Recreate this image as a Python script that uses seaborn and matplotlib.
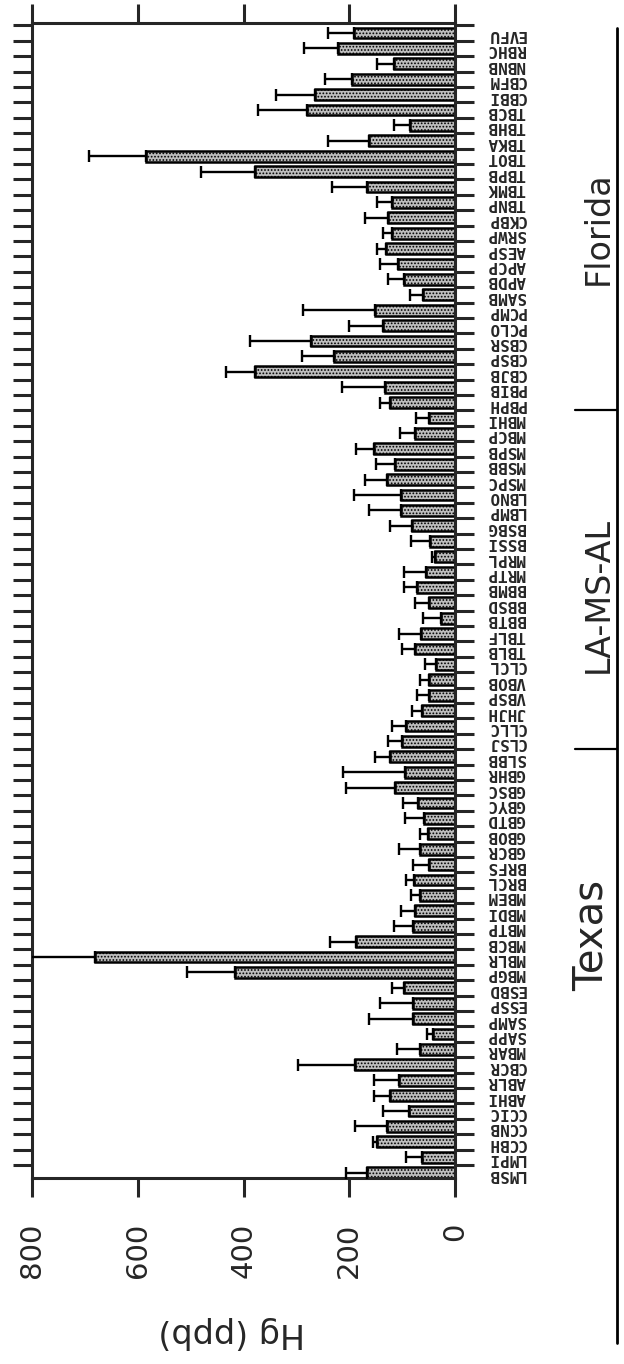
import numpy as np
import pandas as pd
import seaborn as sns
import matplotlib
matplotlib.use("Agg")
import matplotlib.pyplot as plt
from matplotlib.transforms import blended_transform_factory

# ---- data (bottom-to-top order as in the figure) ----
sites = ["LMSB", "LMPI", "CCBH", "CCNB", "CCIC", "ABHI", "ABLR", "CBCR", "MBAR", "SAPP",
         "SAMP", "ESSP", "ESBD", "MBGP", "MBLR", "MBCB", "MBTP", "MBDI", "MBEM", "BRCL",
         "BRFS", "GBCR", "GBOB", "GBTD", "GBYC", "GBSC", "GBHR", "SLBB", "CLSJ", "CLLC",
         "JHJH", "VBSP", "VBOB", "CLCL", "TBLB", "TBLF", "BBTB", "BBSD", "BBMB", "MRTP",
         "MRPL", "BSSI", "BSBG", "LBMP", "LBNO", "MSPC", "MSBB", "MSPB", "MBCP", "MBHI",
         "PBPH", "PBIB", "CBJB", "CBSP", "CBSR", "PCLO", "PCMP", "SAMB", "APDB", "APCP",
         "AESP", "SRWP", "CKBP", "TBNP", "TBMK", "TBPB", "TBOT", "TBKA", "TBHB", "TBCB",
         "CBBI", "CBFM", "NBNB", "RBHC", "EVFU"]

hg_mean = [166, 62, 147, 128, 87, 122, 105, 190, 66, 42,
           80, 80, 97, 416, 681, 187, 80, 75, 67, 77,
           50, 67, 52, 59, 70, 114, 95, 122, 100, 92,
           62, 50, 49, 36, 75, 64, 26, 50, 71, 55,
           38, 48, 81, 103, 103, 129, 114, 153, 76, 50,
           123, 133, 379, 229, 273, 136, 151, 61, 97, 108,
           131, 119, 126, 120, 167, 379, 584, 163, 85, 279,
           265, 195, 115, 221, 191]

hg_err = [40, 30, 9, 62, 50, 31, 48, 107, 43, 11,
          83, 62, 22, 90, 199, 50, 35, 28, 17, 16,
          29, 38, 15, 35, 29, 92, 117, 29, 26, 28,
          19, 22, 17, 21, 26, 41, 35, 25, 25, 42,
          6, 35, 42, 60, 88, 42, 36, 35, 28, 23,
          19, 81, 55, 60, 114, 65, 136, 24, 30, 33,
          17, 17, 44, 28, 66, 102, 109, 78, 30, 93,
          74, 51, 33, 65, 50]

regions = ["Texas", "LA-MS-AL", "Florida"]
region_last_site = ["SLBB", "MBHI"]   # boundaries after these sites
value_ticks = [0, 200, 400, 600, 800]

# ---- figure ----
sns.set_style("ticks")
plt.rcParams["font.family"] = ["DejaVu Sans"]
plt.rcParams["hatch.linewidth"] = 0.8

W, H = 624, 1364
fig = plt.figure(figsize=(W / 100, H / 100), dpi=100)
ax = fig.add_axes([32 / W, 1 - 1178 / H, (455 - 32) / W, (1178 - 23) / H])

order = sites[::-1]          # seaborn puts first category on top
df = pd.DataFrame({"site": sites, "Hg": hg_mean, "err": hg_err})

sns.barplot(data=df, x="Hg", y="site", order=order, orient="h", ax=ax,
            color="#bdbdbd", edgecolor="black", linewidth=1.8, width=0.7,
            errorbar=None, saturation=1)
for p in ax.patches:
    p.set_hatch(".....")

pos = [order.index(s) for s in sites]
ax.errorbar(df["Hg"], pos, xerr=[np.zeros(len(df)), df["err"]], fmt="none",
            ecolor="black", elinewidth=1.7, capsize=4, capthick=1.7, zorder=3)

n = len(sites)
ax.set_xlim(800, 0)
ax.set_ylim(n - 1 + 0.35, -0.65)

# value axis
ax.set_xticks(value_ticks)
ax.set_xticklabels([str(v) for v in value_ticks], rotation=90, fontsize=21)
ax.tick_params(axis="x", which="major", direction="out", length=14, width=2.2,
               top=True, bottom=True, labeltop=False, pad=18)

# category axis
ax.set_yticks(range(n))
ax.set_yticklabels(order, rotation=180, fontsize=11.5,
                   fontfamily="DejaVu Sans Mono", fontweight="bold")
ax.set_yticks(np.arange(-0.5, n - 0.5, 1.0), minor=True)
ax.tick_params(axis="y", which="major", length=0, left=False, right=True,
               labelleft=False, labelright=True, pad=23)
ax.tick_params(axis="y", which="minor", direction="out", length=14, width=2.2,
               left=True, right=True)
ax.set_xlabel("")
ax.set_ylabel("")
for s in ax.spines.values():
    s.set_visible(True)
    s.set_linewidth(2.2)

fig.text(232 / W, 1 - 1333 / H, "Hg (ppb)", rotation=180, fontsize=24,
         ha="center", va="center")

# region annotation on the right
tr = blended_transform_factory(fig.transFigure, ax.transData)
ax.plot([617 / W, 617 / W], [n - 1 + 0.35 + 165 / 15.4, -0.65 + 5 / 15.4],
        color="black", lw=2, transform=tr, clip_on=False)
for s in region_last_site:
    yb = order.index(s) - 0.5
    ax.plot([575 / W, 617 / W], [yb, yb], color="black", lw=1.6,
            transform=tr, clip_on=False)

fig.text(592 / W, 1 - 935 / H, regions[0], rotation=90, fontsize=29,
         ha="center", va="center")
fig.text(598 / W, 1 - 595 / H, regions[1], rotation=90, fontsize=24,
         ha="center", va="center")
fig.text(598 / W, 1 - 228 / H, regions[2], rotation=90, fontsize=24,
         ha="center", va="center")

fig.savefig("out.png", dpi=100)
